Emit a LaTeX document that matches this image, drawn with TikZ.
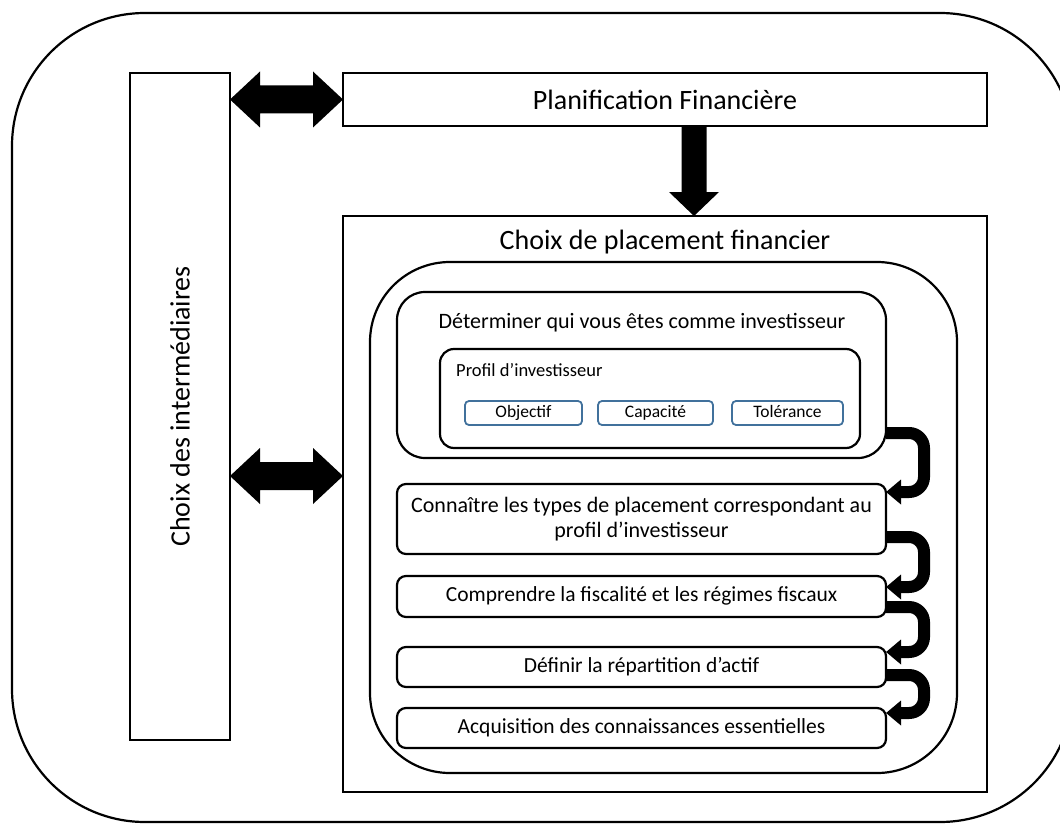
\documentclass[tikz,border=0pt]{standalone}
\usepackage{fontspec}
\setmainfont{Carlito}
\usetikzlibrary{arrows.meta,calc}

\tikzset{
  box/.style={draw, line width=2.2pt, outer sep=0pt, inner sep=0pt, anchor=north west},
  smallbox/.style={draw=blueedge, line width=1.8pt, rounded corners=4pt, outer sep=0pt,
    inner sep=0pt, anchor=north west, minimum height=24pt, text height=12pt, text depth=3.5pt,
    font=\fontsize{17.5}{20}\selectfont},
  stepfont/.style={font=\fontsize{21.5}{25}\selectfont, text height=15pt, text depth=4.5pt},
  uturn/.style={line width=12pt, rounded corners=15pt,
    -{Triangle[length=15pt,width=24pt]}},
  lbl/.style={inner sep=0pt, text=black},
}
\definecolor{blueedge}{HTML}{41719C}

% two-headed block arrow between two points at the same height
\newcommand\twowayarrow[2]{%
  \fill let \p1=(#1), \p2=(#2) in
    (\x1,\y1) -- (\x1+30pt,\y1+28pt) -- (\x1+30pt,\y1+14pt) -- (\x2-30pt,\y1+14pt)
    -- (\x2-30pt,\y1+28pt) -- (\x2,\y1) -- (\x2-30pt,\y1-28pt) -- (\x2-30pt,\y1-14pt)
    -- (\x1+30pt,\y1-14pt) -- (\x1+30pt,\y1-28pt) -- cycle;}

\begin{document}
\begin{tikzpicture}[x=1pt,y=-1pt]
  \useasboundingbox (0,0) rectangle (1060,824);
  \clip (0,0) rectangle (1060,824);

  % outer frame
  \node[box, rounded corners=133pt, minimum width=1061pt, minimum height=809pt] (outer) at (12,13) {};

  % left column and top bar
  \node[box, minimum width=100pt, minimum height=667pt] (inter) at (130,73) {};
  \node[lbl, rotate=90, font=\fontsize{28}{32}\selectfont] (interlbl) at (inter.center) {Choix des intermédiaires};
  \node[box, minimum width=644pt, minimum height=53pt, font=\fontsize{28}{32}\selectfont] (plan) at (343,73) {Planification Financière};

  % investment choice block
  \node[box, minimum width=644pt, minimum height=576pt] (choix) at (343,216) {};
  \node[lbl, font=\fontsize{28}{32}\selectfont] (choixlbl) at (665,242) {Choix de placement financier};
  \node[box, rounded corners=80pt, minimum width=587pt, minimum height=511pt] (inner) at (370,262) {};

  \node[box, rounded corners=28pt, minimum width=489pt, minimum height=166pt] (det) at (397,292) {};
  \node[lbl, font=\fontsize{22}{25}\selectfont] (detlbl) at (642,323) {Déterminer qui vous êtes comme investisseur};
  \node[box, rounded corners=14pt, minimum width=420pt, minimum height=99pt] (profil) at (440,349) {};
  \node[lbl, anchor=west, font=\fontsize{18.5}{21}\selectfont] (profillbl) at (456,370) {Profil d’investisseur};
  \node[smallbox, minimum width=117pt] (obj) at (465,401) {Objectif};
  \node[smallbox, minimum width=115pt] (cap) at (598,401) {Capacité};
  \node[smallbox, minimum width=111pt] (tol) at (732,401) {Tolérance};

  \node[box, rounded corners=9pt, minimum width=489pt, minimum height=70pt, align=center,
        font=\fontsize{22}{25}\selectfont] (conn) at (397,484)
        {Connaître les types de placement correspondant au\\profil d’investisseur};
  \node[box, stepfont, rounded corners=9pt, minimum width=489pt, minimum height=41pt] (comp) at (397,576)
        {Comprendre la fiscalité et les régimes fiscaux};
  \node[box, stepfont, rounded corners=9pt, minimum width=489pt, minimum height=40pt] (def) at (397,647)
        {Définir la répartition d’actif};
  \node[box, stepfont, rounded corners=9pt, minimum width=489pt, minimum height=40pt] (acq) at (397,708)
        {Acquisition des connaissances essentielles};

  % block arrows
  \twowayarrow{inter.east |- plan.west}{plan.west}
  \coordinate (midrow) at (0,476);
  \twowayarrow{inter.east |- midrow}{choix.west |- midrow}
  \coordinate (downtop) at ($(plan.south)+(29,0)$);
  \coordinate (downtip) at (downtop |- choix.north);
  \fill let \p1=(downtop), \p2=(downtip) in
    (\x1-12.5pt,\y1) -- (\x1+12.5pt,\y1) -- (\x1+12.5pt,\y2+24pt) -- (\x1+25pt,\y2+24pt)
    -- (\x2,\y2) -- (\x1-25pt,\y2+24pt) -- (\x1-12.5pt,\y2+24pt) -- cycle;

  % step-to-step turn arrows
  \coordinate (turnx) at (924,0);
  \draw[uturn] (det.east |- 0,433) -- (turnx |- 0,433) -- (turnx |- 0,492) -- (conn.east |- 0,492);
  \draw[uturn] (conn.east |- 0,537) -- (turnx |- 0,537) -- (turnx |- 0,587) -- (comp.east |- 0,587);
  \draw[uturn] (comp.east |- 0,607) -- (turnx |- 0,607) -- (turnx |- 0,652) -- (def.east |- 0,652);
  \draw[uturn] (def.east |- 0,675) -- (turnx |- 0,675) -- (turnx |- 0,713) -- (acq.east |- 0,713);
\end{tikzpicture}
\end{document}
